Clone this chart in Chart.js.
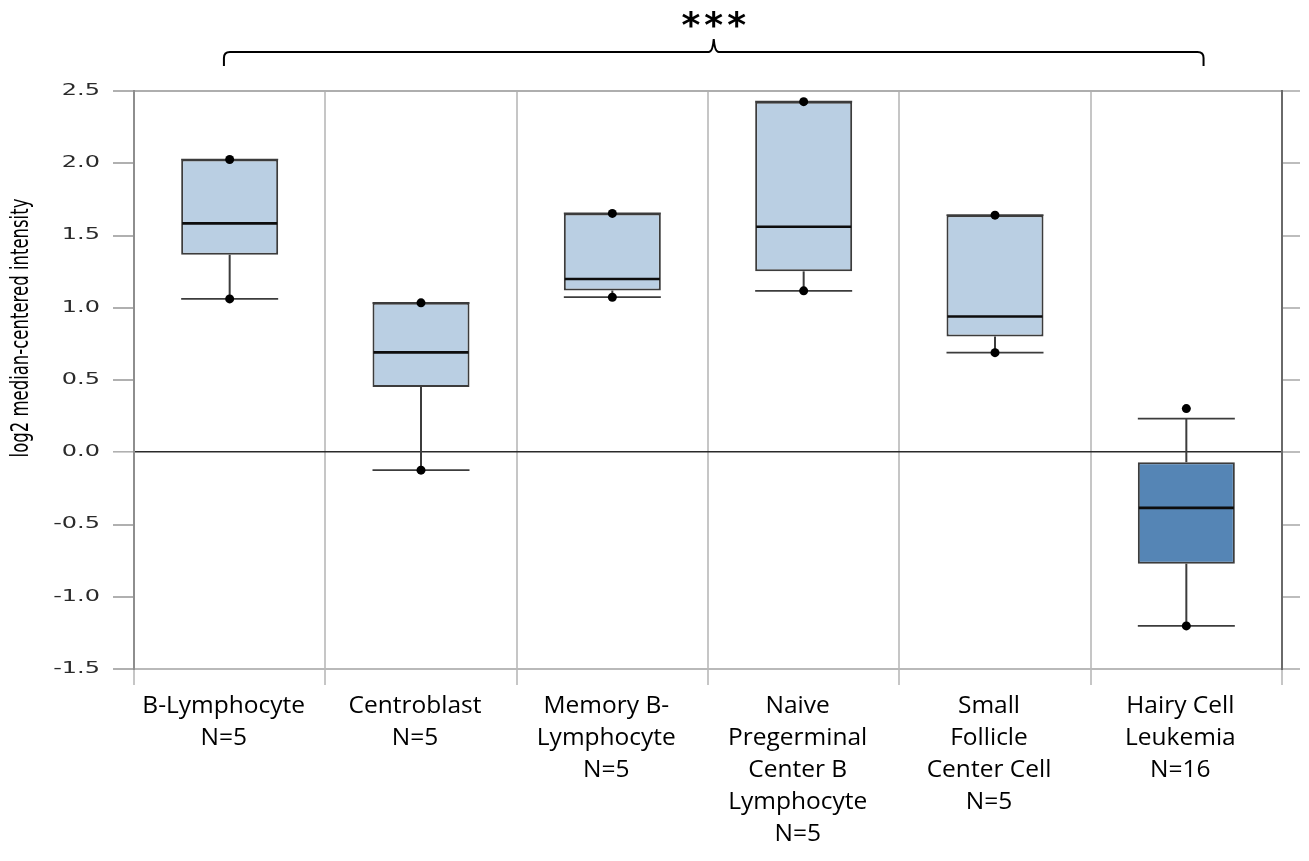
<!DOCTYPE html>
<html>
<head>
<meta charset="utf-8">
<title>log2 median-centered intensity by cell type</title>
<script src="https://cdn.jsdelivr.net/npm/chart.js@4.4.1/dist/chart.umd.min.js"></script>
<style>
  html, body { margin: 0; padding: 0; background: #ffffff; }
  #wrap { width: 1309px; height: 861px; position: relative; }
</style>
</head>
<body>
<div id="wrap"><canvas id="chart" width="1309" height="861"></canvas></div>
<script>
// ---- data ---------------------------------------------------------------
const categories = [
  ['B-Lymphocyte', 'N=5'],
  ['Centroblast', 'N=5'],
  ['Memory B-', 'Lymphocyte', 'N=5'],
  ['Naive', 'Pregerminal', 'Center B', 'Lymphocyte', 'N=5'],
  ['Small', 'Follicle', 'Center Cell', 'N=5'],
  ['Hairy Cell', 'Leukemia', 'N=16']
];
const lowerQuartile = [1.367, 0.451, 1.119, 1.252, 0.801, -0.771];
const medianValue   = [1.584, 0.691, 1.199, 1.561, 0.939, -0.385];
const upperQuartile = [2.026, 1.034, 1.653, 2.426, 1.641, -0.069];
const whiskerLow    = [1.061, -0.124, 1.073, 1.117, 0.689, -1.202];
const whiskerHigh   = [2.026, 1.034, 1.653, 2.426, 1.641, 0.233];
const maxPoint      = [2.026, 1.034, 1.653, 2.426, 1.641, 0.302];
const minPoint      = [1.061, -0.124, 1.073, 1.117, 0.689, -1.202];
const yTickValues   = [-1.5, -1.0, -0.5, 0.0, 0.5, 1.0, 1.5, 2.0, 2.5];
const axisTitle     = 'log2 median-centered intensity';
const significance  = '***';

// ---- styles -------------------------------------------------------------
const LIGHT_BOX = '#bacfe3';
const DARK_BOX  = '#5585b5';
const boxColors = categories.map((c, i) => i === categories.length - 1 ? DARK_BOX : LIGHT_BOX);
const EDGE = '#3c3c3c';

// y axis whose tick labels and title are drawn horizontally widened
class WideLinearScale extends Chart.LinearScale {
  drawLabels(area) {
    const ctx = this.ctx;
    const o = this.options;
    const tl = o.grid.drawTicks ? o.grid.tickLength : 0;
    const ax = this.right - tl - o.ticks.padding;
    ctx.save();
    ctx.translate(ax, 0);
    ctx.scale(1.6, 1);
    ctx.translate(-ax, 0);
    super.drawLabels(area);
    ctx.restore();
  }
  drawTitle() {
    const t = this.options.title;
    if (!t.display) return;
    const ctx = this.ctx;
    const cx = this.left + 22;
    ctx.save();
    ctx.translate(cx, -52);
    ctx.scale(1.45, 1);
    ctx.translate(-cx, 0);
    super.drawTitle();
    ctx.restore();
  }
}
WideLinearScale.id = 'wideLinear';
WideLinearScale.defaults = Chart.LinearScale.defaults;
Chart.register(WideLinearScale);

const setTicks = scale => { scale.ticks = yTickValues.map(v => ({ value: v })); };

// whiskers, caps and medians around each floating bar
const boxParts = {
  id: 'boxParts',
  beforeDatasetsDraw(chart) {
    const ctx = chart.ctx;
    const y = chart.scales.y;
    const bars = chart.getDatasetMeta(0).data;
    ctx.save();
    ctx.strokeStyle = EDGE;
    bars.forEach((bar, i) => {
      const half = bar.width / 2;
      const pairs = [[upperQuartile[i], whiskerHigh[i]], [lowerQuartile[i], whiskerLow[i]]];
      pairs.forEach(([from, to]) => {
        const y0 = y.getPixelForValue(from);
        const y1 = y.getPixelForValue(to);
        ctx.lineWidth = 2;
        ctx.beginPath();
        ctx.moveTo(bar.x, y0);
        ctx.lineTo(bar.x, y1);
        ctx.stroke();
        ctx.lineWidth = 1.7;
        ctx.beginPath();
        ctx.moveTo(bar.x - half, y1);
        ctx.lineTo(bar.x + half, y1);
        ctx.stroke();
      });
    });
    ctx.restore();
  },
  afterDatasetDraw(chart, args) {
    if (args.index !== 0) return;
    const ctx = chart.ctx;
    const y = chart.scales.y;
    ctx.save();
    ctx.strokeStyle = '#0d0d0d';
    ctx.lineWidth = 2.6;
    args.meta.data.forEach((bar, i) => {
      const half = bar.width / 2 - 1;
      const yy = y.getPixelForValue(medianValue[i]);
      ctx.beginPath();
      ctx.moveTo(bar.x - half, yy);
      ctx.lineTo(bar.x + half, yy);
      ctx.stroke();
    });
    ctx.restore();
  }
};

// bracket spanning all groups with the significance stars above it
const bracket = {
  id: 'bracket',
  afterDraw(chart) {
    const ctx = chart.ctx;
    const x = chart.scales.x;
    const step = x.getPixelForValue(1) - x.getPixelForValue(0);
    const L = x.getPixelForValue(0) - 0.03 * step;
    const R = x.getPixelForValue(categories.length - 1) + 0.09 * step;
    const C = (L + R) / 2;
    const top = chart.chartArea.top;
    const yb = top - 39, ye = top - 25, yc = top - 52;
    ctx.save();
    ctx.strokeStyle = '#000';
    ctx.lineWidth = 2;
    ctx.beginPath();
    ctx.moveTo(L, ye);
    ctx.lineTo(L, yb + 6);
    ctx.quadraticCurveTo(L, yb, L + 6, yb);
    ctx.lineTo(C - 5, yb);
    ctx.quadraticCurveTo(C - 1, yb, C, yc);
    ctx.quadraticCurveTo(C + 1, yb, C + 5, yb);
    ctx.lineTo(R - 6, yb);
    ctx.quadraticCurveTo(R, yb, R, yb + 6);
    ctx.lineTo(R, ye);
    ctx.stroke();
    ctx.fillStyle = '#000';
    ctx.font = 'bold 36px "DejaVu Sans"';
    ctx.textAlign = 'center';
    ctx.textBaseline = 'alphabetic';
    if ('letterSpacing' in ctx) ctx.letterSpacing = '4px';
    ctx.fillText(significance, C + 2, top - 54);
    ctx.restore();
  }
};

new Chart(document.getElementById('chart'), {
  data: {
    labels: categories,
    datasets: [
      {
        type: 'bar',
        data: lowerQuartile.map((v, i) => [v, upperQuartile[i]]),
        backgroundColor: boxColors,
        borderColor: EDGE,
        borderWidth: 2,
        borderSkipped: false,
        categoryPercentage: 1,
        barPercentage: 0.507,
        order: 2
      },
      {
        type: 'line',
        data: maxPoint,
        showLine: false,
        pointRadius: 4.5,
        pointBackgroundColor: '#000',
        pointBorderWidth: 0,
        order: 1
      },
      {
        type: 'line',
        data: minPoint,
        showLine: false,
        pointRadius: 4.5,
        pointBackgroundColor: '#000',
        pointBorderWidth: 0,
        order: 1
      }
    ]
  },
  options: {
    responsive: false,
    animation: false,
    events: [],
    layout: { padding: { top: 91, left: 0, right: 0, bottom: 0 } },
    plugins: { legend: { display: false }, tooltip: { enabled: false } },
    scales: {
      x: {
        type: 'category',
        offset: true,
        grid: {
          offset: true,
          color: '#c6c6c6',
          lineWidth: 2,
          tickLength: 16,
          tickColor: '#c6c6c6'
        },
        border: { display: true, color: '#b9b9b9', width: 2 },
        ticks: {
          color: '#000',
          font: { family: '"Open Sans"', size: 24.5, lineHeight: 32 / 24.5 },
          padding: 5,
          labelOffset: -6,
          maxRotation: 0,
          autoSkip: false
        },
        afterFit(s) { s.height = 192; }
      },
      y: {
        type: 'wideLinear',
        position: 'left',
        min: -1.5,
        max: 2.5,
        afterBuildTicks: setTicks,
        grid: {
          color: c => c.tick && c.tick.value === 0 ? '#2a2a2a' : (c.tick && c.tick.value === 2.5 ? '#aeaeae' : 'rgba(0,0,0,0)'),
          lineWidth: c => c.tick && c.tick.value === 0 ? 1.6 : 2,
          tickColor: '#b0b0b0',
          tickLength: 21
        },
        border: { color: '#8e8e8e', width: 2 },
        ticks: {
          color: '#2a2a2a',
          font: { family: '"DejaVu Sans"', size: 15 },
          padding: 13,
          callback: v => v.toFixed(1)
        },
        title: {
          display: true,
          text: axisTitle,
          color: '#000',
          font: { family: '"DejaVu Sans"', size: 16.5 },
          padding: { top: 12, bottom: 0 }
        },
        afterFit(s) { s.width = 134; }
      },
      y2: {
        type: 'linear',
        position: 'right',
        min: -1.5,
        max: 2.5,
        afterBuildTicks: setTicks,
        grid: {
          drawOnChartArea: false,
          tickColor: '#bdbdbd',
          tickLength: 18,
          lineWidth: 2
        },
        border: { color: '#6a6a6a', width: 2 },
        ticks: { display: false },
        afterFit(s) { s.width = 27; }
      }
    }
  },
  plugins: [boxParts, bracket]
});
</script>
</body>
</html>
